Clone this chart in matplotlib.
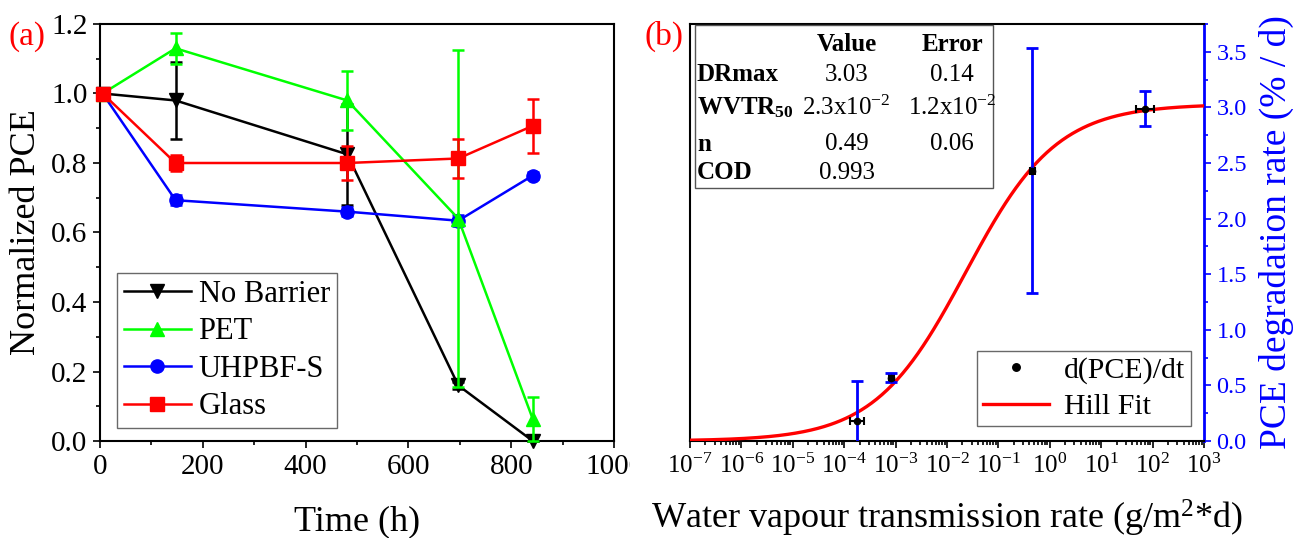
import numpy as np
import matplotlib
matplotlib.use("Agg")
import matplotlib.pyplot as plt
from matplotlib.ticker import MultipleLocator, LogLocator, NullFormatter
from matplotlib.patches import Rectangle
from matplotlib.transforms import Bbox, TransformedBbox

plt.rcParams['font.family'] = ['Liberation Serif', 'DejaVu Serif']
plt.rcParams['mathtext.fontset'] = 'custom'
plt.rcParams['mathtext.rm'] = 'Liberation Serif'
plt.rcParams['mathtext.it'] = 'Liberation Serif:italic'
plt.rcParams['mathtext.bf'] = 'Liberation Serif:bold'
plt.rcParams['axes.unicode_minus'] = False

# (a) normalized PCE vs time
time_h = [5, 147, 481, 697, 842]
no_barrier = [1.0, 0.98, 0.825, 0.16, 0.0]
no_barrier_err = [0.0, 0.11, 0.145, 0.01, 0.0]
pet = [1.0, 1.13, 0.98, 0.64, 0.063]
pet_err = [0.0, 0.045, 0.085, 0.486, 0.064]
uhpbf = [1.0, 0.693, 0.66, 0.634, 0.764]
uhpbf_err = [0.0, 0.015, 0.012, 0.015, 0.01]
glass = [1.0, 0.80, 0.80, 0.813, 0.907]
glass_err = [0.0, 0.024, 0.05, 0.055, 0.078]
xticks_a = [0, 200, 400, 600, 800, 1000]
xticklabels_a = ['0', '200', '400', '600', '800', '1000']

# (b) degradation rate vs WVTR
wvtr = [1.8e-4, 8.3e-4, 0.46, 72.0]
wvtr_lo = [1.32e-4, 7.4e-4, 0.41, 48.0]
wvtr_hi = [2.45e-4, 9.3e-4, 0.52, 107.0]
rate = [0.18, 0.57, 2.43, 2.99]
rate_err = [0.36, 0.04, 1.10, 0.155]
# Hill fit parameters (as in the inset table)
DRmax = 3.03
WVTR50 = 2.3e-2
n_hill = 0.49
table_rows = ['DRmax', 'WVTR$_{\\mathbf{50}}$', 'n', 'COD']
table_values = ['3.03', '2.3x10$^{-2}$', '0.49', '0.993']
table_errors = ['0.14', '1.2x10$^{-2}$', '0.06', '']

W, H = 1306, 538
fig = plt.figure(figsize=(W / 100, H / 100), dpi=100)
ax1 = fig.add_axes([100 / W, 97 / H, 514 / W, 417 / H])
ax2 = fig.add_axes([690 / W, 97 / H, 514 / W, 417 / H])

# ---- panel (a)
series = [
    ('No Barrier', no_barrier, no_barrier_err, 'black', 'v', 2),
    ('PET', pet, pet_err, '#00ff00', '^', 4),
    ('UHPBF-S', uhpbf, uhpbf_err, 'blue', 'o', 3),
    ('Glass', glass, glass_err, 'red', 's', 5),
]
handles = []
names = []
for name, y, e, c, m, z in series:
    cont = ax1.errorbar(time_h, y, yerr=e, color=c, marker=m, markersize=9.5,
                        lw=1.8, elinewidth=1.8, capsize=4, capthick=1.8,
                        zorder=z, clip_on=False)
    handles.append(cont[0])
    names.append(name)

ax1.set_xlim(0, 1000)
ax1.set_ylim(0, 1.2)
ax1.set_xticks(xticks_a, xticklabels_a)
ax1.xaxis.set_minor_locator(MultipleLocator(100))
ax1.yaxis.set_major_locator(MultipleLocator(0.2))
ax1.yaxis.set_minor_locator(MultipleLocator(0.1))
ax1.yaxis.set_major_formatter(plt.FormatStrFormatter('%.1f'))
ax1.tick_params(which='both', direction='out', top=False, right=False, width=1.2, labelsize=21, pad=4)
ax1.tick_params(which='major', length=5)
ax1.tick_params(which='minor', length=3)
for s in ax1.spines.values():
    s.set_linewidth(1.5)
ax1.set_xlabel('Time (h)', fontsize=26)
ax1.xaxis.set_label_coords(0.5, -0.155)
ax1.set_ylabel('Normalized PCE', fontsize=26)
ax1.yaxis.set_label_coords(-0.11, 0.5)
leg = ax1.legend(handles, names, loc='lower left', bbox_to_anchor=(0.033, 0.031),
                 fontsize=22, frameon=True, fancybox=False, handlelength=2.2,
                 labelspacing=0.28, borderpad=0.22, handletextpad=0.25, borderaxespad=0)
leg.get_frame().set_edgecolor('#444444')
leg.get_frame().set_linewidth(1.0)

# clip the last x tick label like in the original
clip = TransformedBbox(Bbox.from_extents(0, 0, 630 / W, 1), fig.transFigure)
last = ax1.xaxis.get_major_ticks()[-1].label1
last.set_clip_box(clip)
last.set_clip_on(True)

fig.text(8 / W, 1 - 45 / H, '(a)', color='red', fontsize=24, va='baseline', ha='left')
fig.text(645 / W, 1 - 45 / H, '(b)', color='red', fontsize=24, va='baseline', ha='left')

# ---- panel (b)
xfit = np.logspace(-7, 3, 400)
yfit = DRmax * xfit ** n_hill / (WVTR50 ** n_hill + xfit ** n_hill)
fit_line, = ax2.plot(xfit, yfit, color='red', lw=2.4, zorder=3)

wv = np.array(wvtr)
xerr = [wv - np.array(wvtr_lo), np.array(wvtr_hi) - wv]
ax2.errorbar(wvtr, rate, xerr=xerr, fmt='none', ecolor='black', elinewidth=1.5,
             capsize=3, capthick=1.5, zorder=4)
ax2.errorbar(wvtr, rate, yerr=rate_err, fmt='none', ecolor='blue', elinewidth=2,
             capsize=4.5, capthick=2, zorder=5)
pts, = ax2.plot(wvtr, rate, 'o', color='black', markersize=4.5, zorder=6)

ax2.set_xscale('log')
ax2.set_xlim(1e-7, 1e3)
ax2.set_ylim(0, 3.75)
ax2.xaxis.set_major_locator(LogLocator(base=10, numticks=20))
ax2.xaxis.set_minor_locator(LogLocator(base=10, subs=np.arange(2, 10), numticks=20))
ax2.xaxis.set_minor_formatter(NullFormatter())
ax2.yaxis.tick_right()
ax2.yaxis.set_label_position('right')
ax2.yaxis.set_major_locator(MultipleLocator(0.5))
ax2.yaxis.set_minor_locator(MultipleLocator(0.25))
ax2.yaxis.set_major_formatter(plt.FormatStrFormatter('%.1f'))
ax2.tick_params(which='both', direction='out', top=False, width=1.2, pad=4)
ax2.tick_params(axis='x', labelsize=18)
ax2.tick_params(axis='y', which='both', colors='blue', labelsize=17.5)
ax2.tick_params(which='major', length=5)
ax2.tick_params(which='minor', length=3)
for s in ax2.spines.values():
    s.set_linewidth(1.5)
ax2.spines['right'].set_color('blue')
ax2.spines['right'].set_linewidth(2)
ax2.set_xlabel('Water vapour transmission rate (g/m$^2$*d)', fontsize=26)
ax2.xaxis.set_label_coords(0.5, -0.137)
ax2.set_ylabel('PCE degradation rate (% / d)', fontsize=27, color='blue')
ax2.yaxis.set_label_coords(1.107, 0.5)

leg2 = ax2.legend([pts, fit_line], ['d(PCE)/dt', 'Hill Fit'], loc='lower right',
                  bbox_to_anchor=(0.975, 0.036),
                  fontsize=21.5, frameon=True, fancybox=False, handlelength=2.2,
                  labelspacing=0.3, borderpad=0.2, handletextpad=0.5, borderaxespad=0,
                  markerscale=1.2)
leg2.get_frame().set_edgecolor('#444444')
leg2.get_frame().set_linewidth(1.0)

# inset parameter table
ax2.add_patch(Rectangle((0.0097, 0.607), 0.58, 0.391, transform=ax2.transAxes,
                        fill=True, facecolor='white', edgecolor='#555555', lw=1.0, zorder=7))
tk = dict(transform=ax2.transAxes, fontsize=18, va='center', zorder=8)
ax2.text(0.305, 0.950, 'Value', ha='center', fontweight='bold', **tk)
ax2.text(0.51, 0.950, 'Error', ha='center', fontweight='bold', **tk)
row_y = [0.878, 0.799, 0.712, 0.643]
for r, v, e, yy in zip(table_rows, table_values, table_errors, row_y):
    ax2.text(0.0136, yy, r, ha='left', fontweight='bold', **tk)
    ax2.text(0.305, yy, v, ha='center', **tk)
    ax2.text(0.51, yy, e, ha='center', **tk)

fig.savefig('out.png', dpi=100)
